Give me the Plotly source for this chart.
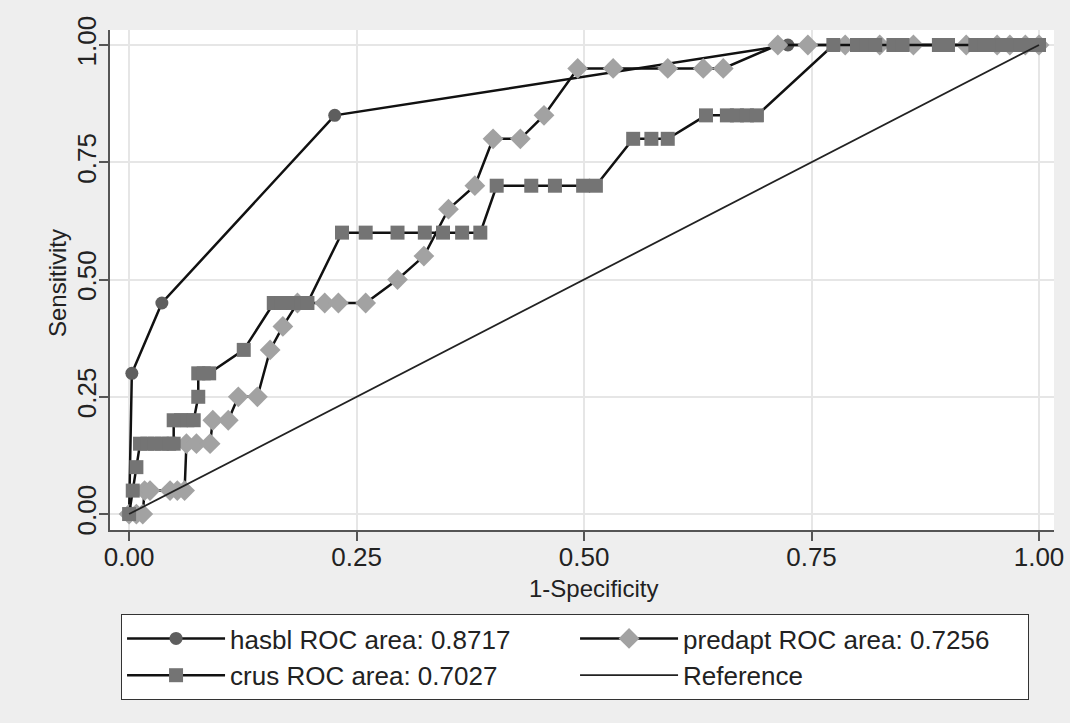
import plotly.graph_objects as go

# ---- data ----
hasbl_x = [0.0, 0.003, 0.036, 0.226, 0.724, 1.0]
hasbl_y = [0.0, 0.30, 0.45, 0.85, 1.0, 1.0]

predapt_x = [0.0, 0.008, 0.015, 0.017, 0.023, 0.045, 0.053, 0.061,
             0.063, 0.074, 0.089, 0.092, 0.109, 0.120, 0.141, 0.155, 0.169,
             0.185, 0.215, 0.230, 0.260, 0.295, 0.324, 0.351, 0.380,
             0.400, 0.430, 0.456, 0.493, 0.532, 0.592, 0.631, 0.653,
             0.713, 0.746, 0.787, 0.825, 0.862, 0.920, 0.954, 0.968, 0.985, 1.0]
predapt_y = [0.0, 0.0, 0.0, 0.05, 0.05, 0.05, 0.05, 0.05,
             0.15, 0.15, 0.15, 0.20, 0.20, 0.25, 0.25, 0.35, 0.40,
             0.45, 0.45, 0.45, 0.45, 0.50, 0.55, 0.65, 0.70,
             0.80, 0.80, 0.85, 0.95, 0.95, 0.95, 0.95, 0.95,
             1.0, 1.0, 1.0, 1.0, 1.0, 1.0, 1.0, 1.0, 1.0, 1.0]

crus_x = [0.0, 0.004, 0.008, 0.012, 0.020, 0.028, 0.036, 0.044, 0.049,
          0.049, 0.057, 0.064, 0.071, 0.076, 0.076, 0.082, 0.088, 0.126,
          0.159, 0.167, 0.174, 0.181, 0.189, 0.196,
          0.234, 0.260, 0.295, 0.325, 0.345, 0.366, 0.386,
          0.404, 0.442, 0.468, 0.499, 0.513,
          0.554, 0.574, 0.592,
          0.634, 0.657, 0.668, 0.679, 0.690,
          0.774, 0.800, 0.810, 0.820, 0.840, 0.850, 0.890, 0.900,
          0.930, 0.940, 0.950, 0.960, 0.970, 0.980, 0.990, 1.0]
crus_y = [0.0, 0.05, 0.10, 0.15, 0.15, 0.15, 0.15, 0.15, 0.15,
          0.20, 0.20, 0.20, 0.20, 0.25, 0.30, 0.30, 0.30, 0.35,
          0.45, 0.45, 0.45, 0.45, 0.45, 0.45,
          0.60, 0.60, 0.60, 0.60, 0.60, 0.60, 0.60,
          0.70, 0.70, 0.70, 0.70, 0.70,
          0.80, 0.80, 0.80,
          0.85, 0.85, 0.85, 0.85, 0.85,
          1.0, 1.0, 1.0, 1.0, 1.0, 1.0, 1.0, 1.0,
          1.0, 1.0, 1.0, 1.0, 1.0, 1.0, 1.0, 1.0]

ref_x = [0.0, 1.0]
ref_y = [0.0, 1.0]

tick_vals = [0, 0.25, 0.5, 0.75, 1.0]
tick_text = ["0.00", "0.25", "0.50", "0.75", "1.00"]

names = ["hasbl ROC area: 0.8717", "predapt ROC area: 0.7256",
         "crus ROC area: 0.7027", "Reference"]
x_title = "1-Specificity"
y_title = "Sensitivity"

FONT = "Liberation Sans, Arial, sans-serif"

fig = go.Figure()
fig.add_trace(go.Scatter(x=hasbl_x, y=hasbl_y, name=names[0], mode="lines+markers",
                         line=dict(color="#111111", width=2.5),
                         marker=dict(symbol="circle", size=13, color="#5e5e5e")))
fig.add_trace(go.Scatter(x=predapt_x, y=predapt_y, name=names[1], mode="lines+markers",
                         line=dict(color="#111111", width=2.5),
                         marker=dict(symbol="diamond", size=16, color="#a2a2a2")))
fig.add_trace(go.Scatter(x=crus_x, y=crus_y, name=names[2], mode="lines+markers",
                         line=dict(color="#111111", width=2.5),
                         marker=dict(symbol="square", size=14, color="#747474")))
fig.add_trace(go.Scatter(x=ref_x, y=ref_y, name=names[3], mode="lines",
                         line=dict(color="#222222", width=1.8)))

axis_common = dict(
    showgrid=True, gridcolor="#e6e6e6", gridwidth=2,
    zeroline=False, showline=True, linecolor="#555555", linewidth=1.5,
    ticks="outside", ticklen=9, tickcolor="#555555", tickwidth=1.5,
    tickvals=tick_vals, ticktext=tick_text,
    tickfont=dict(family=FONT, size=26, color="#222222"),
    automargin=False,
)

fig.update_layout(
    width=1070, height=723,
    margin=dict(l=110, r=16, t=30, b=193, autoexpand=False),
    paper_bgcolor="#eeeeee", plot_bgcolor="#ffffff",
    font=dict(family=FONT, color="#222222"),
    xaxis=dict(range=[-0.021, 1.0165], ticklabelstandoff=-6, **axis_common),
    yaxis=dict(range=[-0.034, 1.032], tickangle=-90, ticklabelstandoff=-7, **axis_common),
    legend=dict(orientation="h", x=0.0117, xanchor="left", y=-0.168, yanchor="top",
                bgcolor="#ffffff", bordercolor="#333333", borderwidth=1,
                font=dict(family=FONT, size=26, color="#222222"),
                itemwidth=98, entrywidth=340, traceorder="normal", tracegroupgap=0),
    showlegend=True,
    annotations=[
        dict(text=x_title, xref="paper", yref="paper", x=0.5117, y=-0.116,
             xanchor="center", yanchor="middle", showarrow=False,
             font=dict(family=FONT, size=24, color="#222222")),
        dict(text=y_title, xref="paper", yref="paper", x=-0.0561, y=0.494,
             xanchor="center", yanchor="middle", showarrow=False, textangle=-90,
             font=dict(family=FONT, size=24, color="#222222")),
    ],
)

fig.write_html("out.html", config={"displayModeBar": False},
               post_script="document.body.style.margin='0';document.body.style.background='#eeeeee';")
